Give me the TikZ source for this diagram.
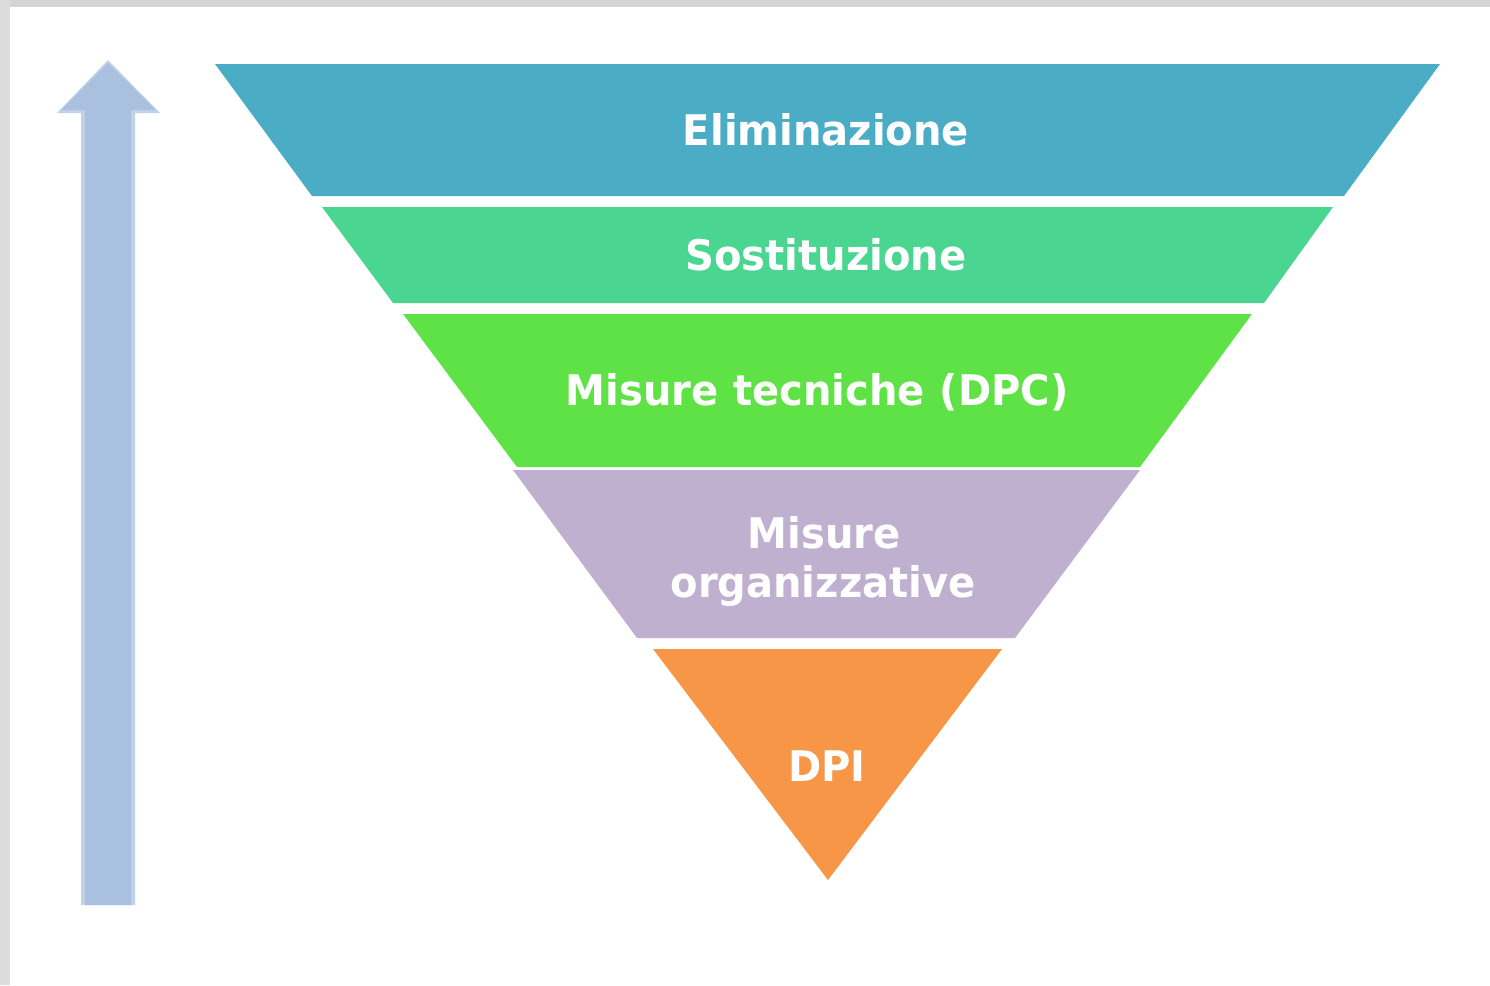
\documentclass[tikz,border=0pt]{standalone}
\usepackage{fontspec}
\setmainfont{DejaVu Sans}
\newfontfamily\lblfont[FakeStretch=0.95]{DejaVu Sans}
\definecolor{cElim}{RGB}{75,172,198}
\definecolor{cSost}{RGB}{74,214,144}
\definecolor{cTec}{RGB}{95,226,70}
\definecolor{cOrg}{RGB}{191,176,208}
\definecolor{cDpi}{RGB}{247,150,70}
\definecolor{cArrow}{RGB}{169,193,223}
\definecolor{cArrowEdge}{RGB}{192,210,232}
\definecolor{cFrameTop}{RGB}{212,212,212}
\definecolor{cFrameLeft}{RGB}{220,220,220}
\tikzset{
  band/.style={draw=none},
  lbl/.style={text=white, font=\lblfont\bfseries\fontsize{24}{28}\selectfont, inner sep=0pt, align=center},
}
\begin{document}
\begin{tikzpicture}[x={(0.02cm,0)}, y={(0,-0.02cm)}]
\useasboundingbox (0,0) rectangle (1490,985);
\fill[white] (0,0) rectangle (1490,985);
\fill[cFrameTop] (0,0) rectangle (1490,7);
\fill[cFrameLeft] (0,0) rectangle (10,985);
% arrow
\fill[cArrowEdge] (81,905) -- (81,113) -- (57,113) -- (108,60) -- (160,113) -- (135,113) -- (135,905) -- cycle;
\fill[cArrow] (85,905) -- (85,110) -- (61,110) -- (108,63) -- (156,110) -- (131,110) -- (131,905) -- cycle;
% bands
\fill[band, cElim] (215,64) -- (1440,64) -- (1344,196) -- (312,196) -- cycle;
\fill[band, cSost] (322,207) -- (1333,207) -- (1264,303) -- (393,303) -- cycle;
\fill[band, cTec] (403,314) -- (1252,314) -- (1140,467) -- (517,467) -- cycle;
\fill[band, cOrg] (513,470) -- (1140,470) -- (1015,638) -- (637,638) -- cycle;
\fill[band, cDpi] (653,649) -- (1002,649) -- (828,880) -- cycle;
% labels
\node[lbl, anchor=base] (elim) at (826,145) {Eliminazione};
\node[lbl, anchor=base] (sost) at (826,270) {Sostituzione};
\node[lbl, anchor=base] (tec) at (817,405) {Misure\hspace{0.35em}tecniche\hspace{0.35em}(DPC)};
\node[lbl, anchor=base] (org1) at (824,548) {Misure};
\node[lbl, anchor=base] (org2) at (823,597) {organizzative};
\node[lbl, anchor=base] (dpi) at (827,781) {DPI};
\end{tikzpicture}
\end{document}
